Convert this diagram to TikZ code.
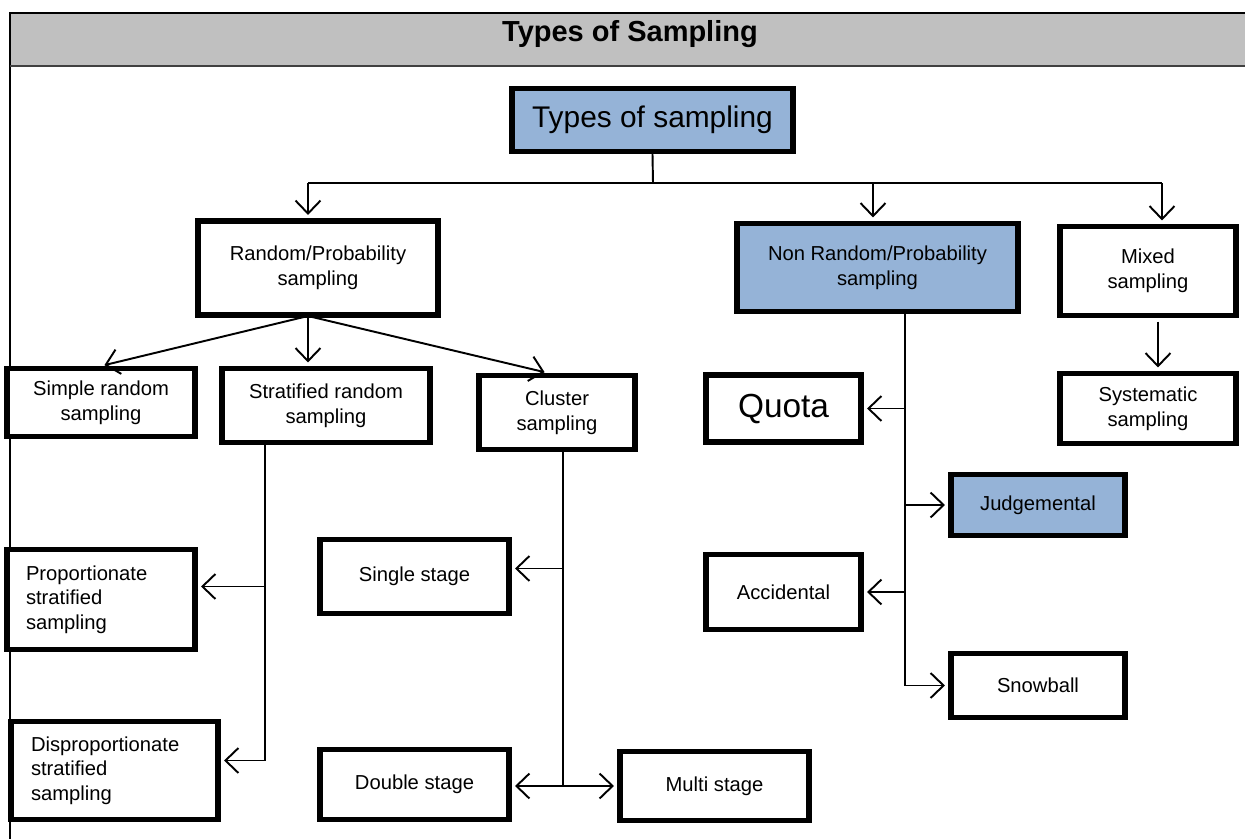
\documentclass[tikz,border=0pt]{standalone}
\usepackage{fontspec}
\setmainfont{Liberation Sans}
\usepackage{tikz}
\usetikzlibrary{arrows.meta,positioning,calc}
\usepackage{xcolor}
\definecolor{sampblue}{HTML}{95B3D7}
\definecolor{headgray}{HTML}{C0C0C0}

\tikzset{
  box/.style={draw, line width=2.9pt, fill=white, align=center, inner sep=0pt,
    font=\fontsize{11.5}{14}\selectfont},
  hibox/.style={box, fill=sampblue},
  arr/.style={-{Straight Barb[length=0.26cm,width=0.5cm]}, line width=1.1pt, shorten >=2pt},
  link/.style={line width=1.1pt}
}

\begin{document}
\begin{tikzpicture}[x=0.02cm,y=-0.02cm]
\useasboundingbox (0,0) rectangle (1245,839);

% header
\fill[headgray] (10,13) rectangle (1245,66);
\draw[line width=0.8pt] (10,839) -- (10,13) -- (1245,13);
\draw[line width=1.1pt, black!75] (10,66) -- (1245,66);
\node (title) at (630,34) {\fontsize{16.5}{20}\selectfont\bfseries Types of Sampling};

% boxes
\node[hibox, minimum width=5.62cm, minimum height=1.26cm, font=\fontsize{17}{20}\selectfont] (root) at (652.5,120) {Types of sampling};
\node[box, minimum width=4.8cm, minimum height=1.88cm] (rand) at (318,268) {Random/Probability\\sampling};
\node[hibox, minimum width=5.62cm, minimum height=1.76cm] (nonrand) at (877.5,267.5) {Non Random/Probability\\sampling};
\node[box, minimum width=3.52cm, minimum height=1.78cm] (mixed) at (1148,271) {Mixed\\sampling};

\node[box, minimum width=3.76cm, minimum height=1.36cm] (simple) at (101,402.5) {Simple random\\sampling};
\node[box, minimum width=4.16cm, minimum height=1.48cm] (strat) at (326,405.5) {Stratified random\\sampling};
\node[box, minimum width=3.12cm, minimum height=1.48cm] (cluster) at (557,412.5) {Cluster\\sampling};
\node[box, minimum width=3.1cm, minimum height=1.34cm, font=\fontsize{19}{23}\selectfont] (quota) at (783.5,408.5) {Quota};
\node[box, minimum width=3.52cm, minimum height=1.4cm] (syst) at (1148,408.5) {Systematic\\sampling};

\node[hibox, minimum width=3.48cm, minimum height=1.22cm] (judg) at (1038,505) {Judgemental};
\node[box, minimum width=3.1cm, minimum height=1.5cm] (accid) at (783.5,592) {Accidental};
\node[box, minimum width=3.48cm, minimum height=1.28cm] (snow) at (1038,685.5) {Snowball};

\node[box, align=left, text width=3.0cm, inner xsep=0.38cm, minimum height=2.0cm] (prop) at (101,599.5) {Proportionate\\stratified\\sampling};
\node[box, align=left, text width=3.34cm, inner xsep=0.4cm, minimum height=1.96cm] (disprop) at (114.5,770.5) {Disproportionate\\stratified\\sampling};

\node[box, minimum width=3.78cm, minimum height=1.48cm] (single) at (414.5,576.5) {Single stage};
\node[box, minimum width=3.78cm, minimum height=1.4cm] (double) at (414.5,784.5) {Double stage};
\node[box, minimum width=3.78cm, minimum height=1.38cm] (multi) at (714.5,786) {Multi stage};

% top level
\coordinate (bus) at (653,183);
\coordinate (busL) at (308,183);
\coordinate (busM) at (873,183);
\coordinate (busR) at (1162,183);
\draw[link] (root.south) -- (bus);
\draw[link] (busL) -- (busR);
\draw[arr] (busL) -- (busL |- rand.north);
\draw[arr] (busM) -- (busM |- nonrand.north);
\draw[arr] (busR) -- (busR |- mixed.north);

% random
\coordinate (randout) at (308,316);
\draw[arr] (randout) -- (simple.north);
\draw[arr] (randout) -- (randout |- strat.north);
\draw[arr] (randout) -- ([xshift=-0.18cm]cluster.north);

% mixed
\draw[arr, shorten <=2pt] ([xshift=0.2cm]mixed.south) -- ([xshift=0.2cm]syst.north);

% non random
\coordinate (nrtop) at ([xshift=0.55cm]nonrand.south);
\draw[link] (nrtop) -- (nrtop |- snow.west);
\draw[arr] (nrtop |- quota.east) -- (quota.east);
\draw[arr] (nrtop |- judg.west) -- (judg.west);
\draw[arr] (nrtop |- accid.east) -- (accid.east);
\draw[arr] (nrtop |- snow.west) -- (snow.west);

% stratified
\coordinate (sttop) at ([xshift=-1.22cm]strat.south);
\coordinate (stprop) at ([yshift=0.26cm]prop.east);
\coordinate (stdis) at ([yshift=0.2cm]disprop.east);
\draw[link] (sttop) -- (sttop |- stdis);
\draw[arr] (sttop |- stprop) -- (stprop);
\draw[arr] (sttop |- stdis) -- (stdis);

% cluster
\coordinate (cltop) at ([xshift=0.12cm]cluster.south);
\coordinate (clsingle) at ([yshift=0.16cm]single.east);
\coordinate (clbot) at (cltop |- multi.west);
\draw[link] (cltop) -- (clbot);
\draw[arr] (cltop |- clsingle) -- (clsingle);
\draw[arr] (clbot) -- (double.east |- clbot);
\draw[arr] (clbot) -- (multi.west);

\end{tikzpicture}
\end{document}
